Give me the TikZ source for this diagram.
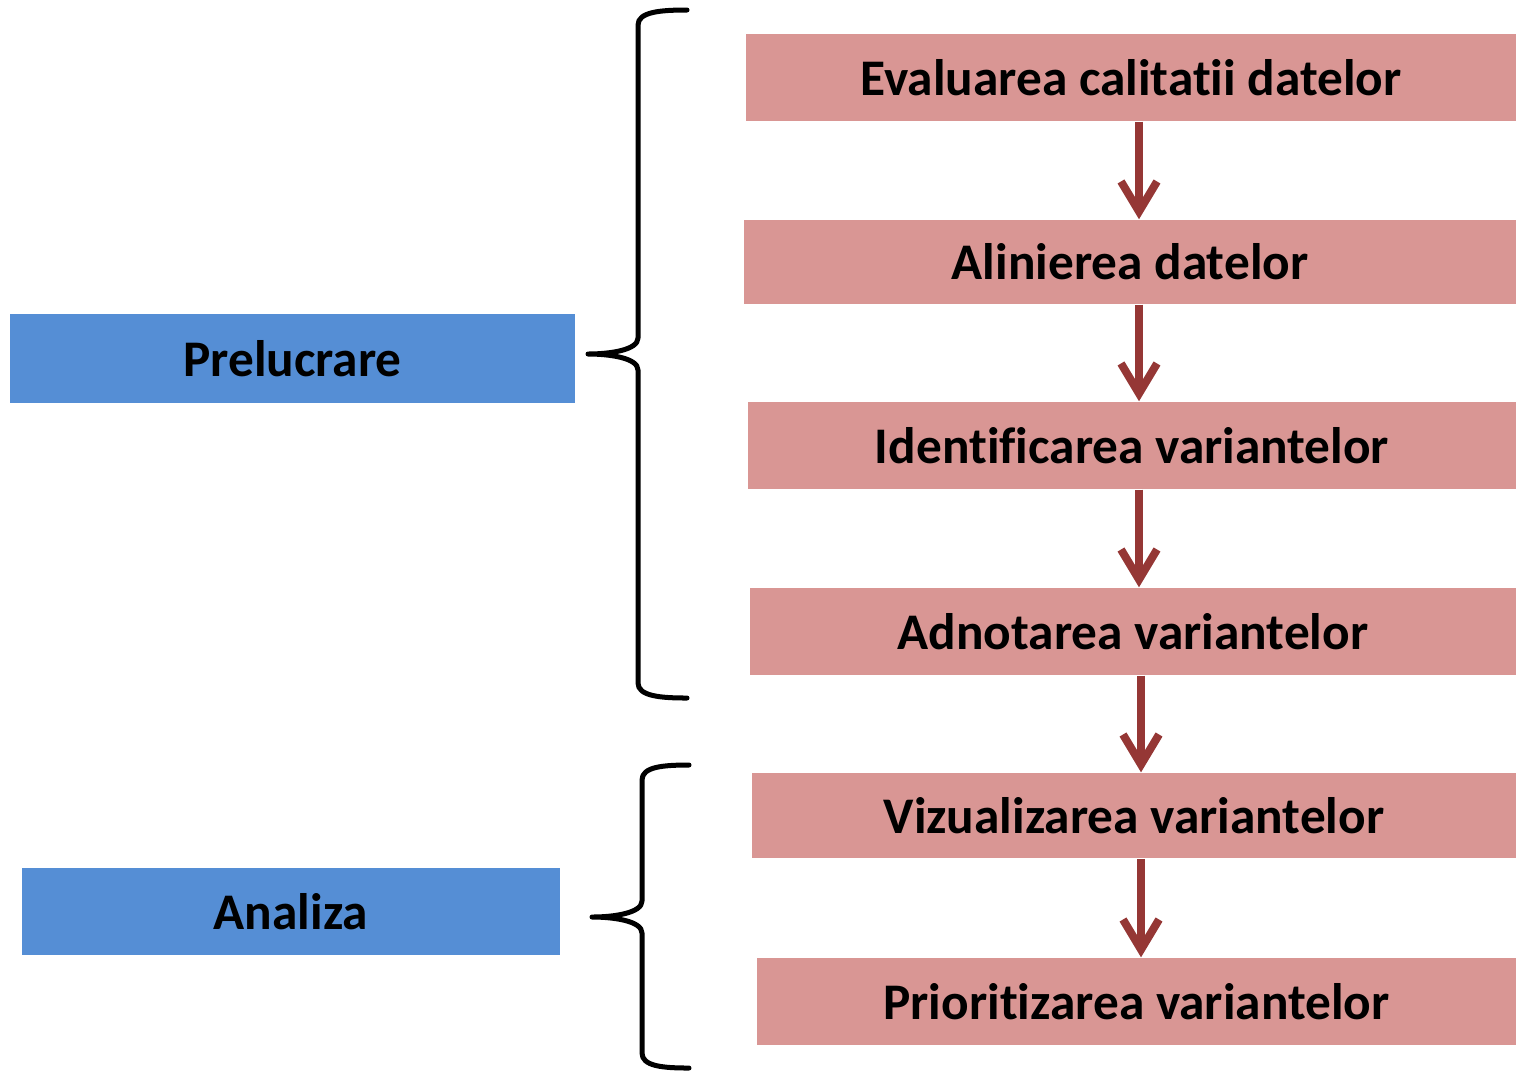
\documentclass[tikz,border=0pt]{standalone}
\usepackage{fontspec}
\setmainfont{Carlito}[Ligatures=NoCommon]
\usetikzlibrary{arrows.meta}
\definecolor{roz}{HTML}{D99694}
\definecolor{albastru}{HTML}{558ED5}
\definecolor{visiniu}{HTML}{953735}
\begin{document}
\begin{tikzpicture}[x=0.01cm,y=-0.01cm,
    pas/.style={fill=roz,inner sep=0pt,minimum height=0.87cm,font=\fontsize{14.6}{17}\selectfont\bfseries},
    etapa/.style={fill=albastru,inner sep=0pt,minimum height=0.88cm,font=\fontsize{14.6}{17}\selectfont\bfseries},
    sag/.style={visiniu,line width=0.08cm,-{Straight Barb[length=0.3cm,width=0.36cm]}},
    acolada/.style={line width=0.05cm,line cap=round,line join=round}]
\useasboundingbox (0,0) rectangle (1516,1072);
\node[pas,minimum width=7.70cm] (e1) at (1131,77.5) {Evaluarea calitatii datelor};
\node[pas,minimum width=7.72cm,minimum height=0.84cm] (e2) at (1130,262) {Alinierea datelor};
\node[pas,minimum width=7.68cm] (e3) at (1132,445.5) {Identificarea variantelor};
\node[pas,minimum width=7.66cm] (e4) at (1133,631.5) {Adnotarea variantelor};
\node[pas,minimum width=7.64cm,minimum height=0.85cm] (e5) at (1134,815.5) {Vizualizarea variantelor};
\node[pas,minimum width=7.59cm] (e6) at (1136.5,1001.5) {Prioritizarea variantelor};
\node[etapa,minimum width=5.65cm] (p) at (292.5,358.5) {Prelucrare};
\node[etapa,minimum width=5.38cm,minimum height=0.87cm] (a) at (291,911.5) {Analiza};
% sagetile
\coordinate (x1) at (1139,0);\coordinate (x2) at (1141,0);
\draw[sag] (e1.south -| x1)--(e2.north -| x1);
\draw[sag] (e2.south -| x1)--(e3.north -| x1);
\draw[sag] (e3.south -| x1)--(e4.north -| x1);
\draw[sag] (e4.south -| x2)--(e5.north -| x2);
\draw[sag] (e5.south -| x2)--(e6.north -| x2);
% acoladele
\draw[acolada] (687,10) .. controls (660,10) and (638,12) .. (638,25) -- (638,338)
    .. controls (638,350) and (610,354) .. (588,354) .. controls (610,354) and (638,358) .. (638,370)
    -- (638,683) .. controls (638,696) and (660,698) .. (687,698);
\draw[acolada] (689,765) .. controls (662,765) and (642,767) .. (642,780) -- (642,901)
    .. controls (642,913) and (614,917) .. (592,917) .. controls (614,917) and (642,921) .. (642,933)
    -- (642,1053) .. controls (642,1066) and (662,1068) .. (689,1068);
\end{tikzpicture}
\end{document}
